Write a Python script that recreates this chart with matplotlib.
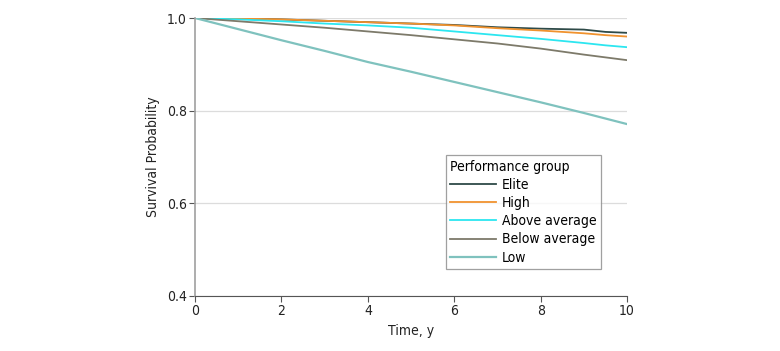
import numpy as np
import matplotlib.pyplot as plt

plt.rcParams['font.family'] = ['DejaVu Sans']
plt.rcParams['font.stretch'] = 'condensed'

# survival estimates
years = [0, 1, 2, 3, 4, 5, 6, 7, 8, 9, 9.5, 10]
elite = [1.0, 0.999, 0.997, 0.994, 0.991, 0.988, 0.985, 0.980, 0.977, 0.975, 0.970, 0.968]
high = [1.0, 0.999, 0.997, 0.994, 0.991, 0.988, 0.984, 0.978, 0.973, 0.967, 0.963, 0.960]
above_avg = [1.0, 0.997, 0.993, 0.988, 0.984, 0.979, 0.971, 0.963, 0.955, 0.946, 0.941, 0.937]
below_avg = [1.0, 0.993, 0.986, 0.979, 0.971, 0.963, 0.954, 0.945, 0.934, 0.921, 0.915, 0.909]
low = [1.0, 0.976, 0.952, 0.929, 0.905, 0.884, 0.862, 0.840, 0.818, 0.795, 0.783, 0.771]

groups = ['Elite', 'High', 'Above average', 'Below average', 'Low']
colors = ['#2e4a48', '#f0922e', '#2ce6f0', '#7d7a6a', '#7fc2be']

fig = plt.figure(figsize=(7.8, 3.51), dpi=100)
ax = fig.add_axes([0.25, 0.1567, 0.554, 0.792])

for series, name, c in zip([elite, high, above_avg, below_avg, low], groups, colors):
    ax.plot(years, series, color=c, lw=1.6 if name == 'Low' else 1.3, label=name)

ax.set_xlim(0, 10)
ax.set_ylim(0.4, 1.0)
ax.set_xticks([0, 2, 4, 6, 8, 10])
ax.set_yticks([0.4, 0.6, 0.8, 1.0])
ax.set_yticklabels(['0.4', '0.6', '0.8', '1.0'])
ax.grid(axis='y', color='#dcdcdc', lw=0.9)
ax.set_axisbelow(True)

for s in ['top', 'right']:
    ax.spines[s].set_visible(False)
ax.spines['left'].set_color('#a0a0a0')
ax.spines['left'].set_linewidth(1.2)
ax.spines['bottom'].set_color('#555555')
ax.tick_params(axis='both', labelsize=10, length=4, pad=2, color='#555555', labelcolor='#222222')

ax.set_xlabel('Time, y', fontsize=10, color='#222222', labelpad=4)
ax.set_ylabel('Survival Probability', fontsize=10, color='#222222', labelpad=5)

leg = ax.legend(title='Performance group', loc='lower right', bbox_to_anchor=(0.94, 0.097),
                borderaxespad=0, fontsize=10, title_fontsize=10, frameon=True,
                fancybox=False, edgecolor='#888888', handlelength=3.3, handletextpad=0.45,
                labelspacing=0.3, borderpad=0.32)
leg._legend_box.align = 'left'
leg.get_frame().set_linewidth(0.9)

fig.savefig('out.png', dpi=100)
